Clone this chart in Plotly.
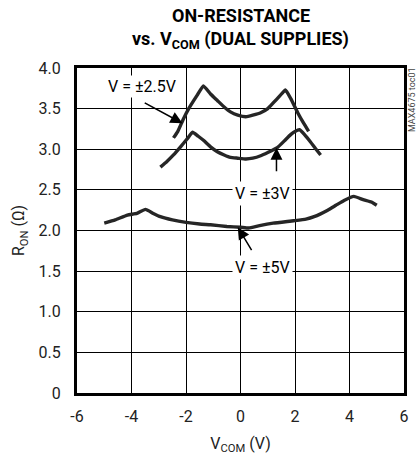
import plotly.graph_objects as go

# ---- data ----
x_25 = [-2.46, -2.3, -2.1, -1.9, -1.6, -1.36, -1.1, -0.85, -0.6, -0.37, -0.1, 0.2, 0.45, 0.74, 1.0, 1.2, 1.45, 1.65, 1.85, 2.1, 2.3, 2.5]
y_25 = [3.14, 3.22, 3.37, 3.50, 3.66, 3.78, 3.68, 3.60, 3.52, 3.46, 3.42, 3.40, 3.42, 3.45, 3.50, 3.57, 3.66, 3.73, 3.62, 3.45, 3.33, 3.22]

x_3 = [-2.94, -2.7, -2.46, -2.2, -1.95, -1.76, -1.55, -1.36, -1.1, -0.85, -0.6, -0.37, -0.1, 0.2, 0.45, 0.74, 1.0, 1.35, 1.6, 1.84, 2.0, 2.17, 2.35, 2.57, 2.75, 2.94]
y_3 = [2.78, 2.85, 2.93, 3.03, 3.13, 3.21, 3.16, 3.11, 3.03, 2.97, 2.93, 2.90, 2.89, 2.88, 2.89, 2.92, 2.96, 3.02, 3.10, 3.18, 3.22, 3.24, 3.18, 3.09, 3.01, 2.93]

x_5 = [-5.0, -4.6, -4.15, -3.8, -3.49, -3.2, -2.94, -2.5, -2.0, -1.5, -1.1, -0.5, 0.0, 0.3, 0.7, 1.2, 1.95, 2.4, 2.7, 3.2, 3.5, 3.8, 4.16, 4.5, 4.8, 5.0]
y_5 = [2.09, 2.13, 2.19, 2.21, 2.26, 2.21, 2.17, 2.13, 2.10, 2.08, 2.07, 2.05, 2.04, 2.03, 2.06, 2.09, 2.12, 2.14, 2.17, 2.25, 2.31, 2.37, 2.42, 2.38, 2.35, 2.31]

x_ticks = [-6, -4, -2, 0, 2, 4, 6]
x_ticklabels = ["-6", "-4", "-2", "0", "2", "4", "6"]
y_ticks = [0, 0.5, 1.0, 1.5, 2.0, 2.5, 3.0, 3.5, 4.0]
y_ticklabels = ["0", "0.5", "1.0", "1.5", "2.0", "2.5", "3.0", "3.5", "4.0"]

FONT = "Liberation Sans Narrow, Roboto, Arial Narrow, sans-serif"
LINE = "#262626"

fig = go.Figure()
for xs, ys in [(x_25, y_25), (x_3, y_3), (x_5, y_5)]:
    fig.add_trace(go.Scatter(x=xs, y=ys, mode="lines",
                             line=dict(color=LINE, width=3.4, shape="spline", smoothing=0.4),
                             showlegend=False, hoverinfo="skip"))

ann = []
ann.append(dict(x=-3.6, y=3.77, xref="x", yref="y", text="V = ±2.5V", showarrow=False,
                font=dict(family=FONT, size=16, color="black"), bgcolor="white", borderpad=1))
ann.append(dict(x=0.8, y=2.46, xref="x", yref="y", text="V = ±3V", showarrow=False,
                font=dict(family=FONT, size=16, color="black"), bgcolor="white", borderpad=2))
ann.append(dict(x=0.8, y=1.54, xref="x", yref="y", text="V = ±5V", showarrow=False,
                font=dict(family=FONT, size=16, color="black"), bgcolor="white", borderpad=2))
for hx, hy, tx, ty in [(-2.13, 3.32, -3.57, 3.58), (1.32, 3.02, 1.32, 2.71), (-0.1, 2.04, 0.44, 1.74)]:
    ann.append(dict(x=hx, y=hy, ax=tx, ay=ty, xref="x", yref="y", axref="x", ayref="y",
                    text="", showarrow=True, arrowhead=2, arrowsize=1.6, arrowwidth=1.5,
                    arrowcolor="black"))
ann.append(dict(x=0, y=1.163, xref="x", yref="paper", text="<b>ON-RESISTANCE</b>", showarrow=False,
                yanchor="middle", font=dict(family=FONT, size=18, color="black")))
ann.append(dict(x=0, y=1.086, xref="x", yref="paper",
                text="<b>vs. V<sub>COM</sub> (DUAL SUPPLIES)</b>", showarrow=False,
                yanchor="middle", font=dict(family=FONT, size=18, color="black")))
ann.append(dict(x=1.024, y=1.01, xref="paper", yref="paper", text="MAX4675 toc01", showarrow=False,
                textangle=-90, xanchor="center", yanchor="top",
                font=dict(family=FONT, size=9, color="#444")))

fig.update_layout(
    width=418, height=455,
    margin=dict(l=77, r=14, t=68, b=62, autoexpand=False),
    paper_bgcolor="white", plot_bgcolor="white",
    font=dict(family=FONT, size=16, color="black"),
    annotations=ann,
    xaxis=dict(range=[-6, 6], tickmode="array", tickvals=x_ticks, ticktext=x_ticklabels,
               showgrid=True, gridcolor="black", gridwidth=1, zeroline=False,
               showline=True, linecolor="black", linewidth=3, mirror=True,
               ticks="", automargin=False, tickfont=dict(family=FONT, size=16, color="#222"),
               ticklabelstandoff=7,
               title=dict(text="V<sub>COM</sub> (V)", font=dict(family=FONT, size=16, color="#222"), standoff=14)),
    yaxis=dict(range=[0, 4], tickmode="array", tickvals=y_ticks, ticktext=y_ticklabels,
               showgrid=True, gridcolor="black", gridwidth=1, zeroline=False,
               showline=True, linecolor="black", linewidth=3, mirror=True,
               ticks="", automargin=False, tickfont=dict(family=FONT, size=16, color="#222"),
               ticklabelstandoff=10,
               title=dict(text="R<sub>ON</sub> (Ω)", font=dict(family=FONT, size=16, color="#222"), standoff=10)),
)

fig.write_html("out.html", config={"displayModeBar": False},
               post_script="document.body.style.margin='0';document.body.style.overflow='hidden';")
